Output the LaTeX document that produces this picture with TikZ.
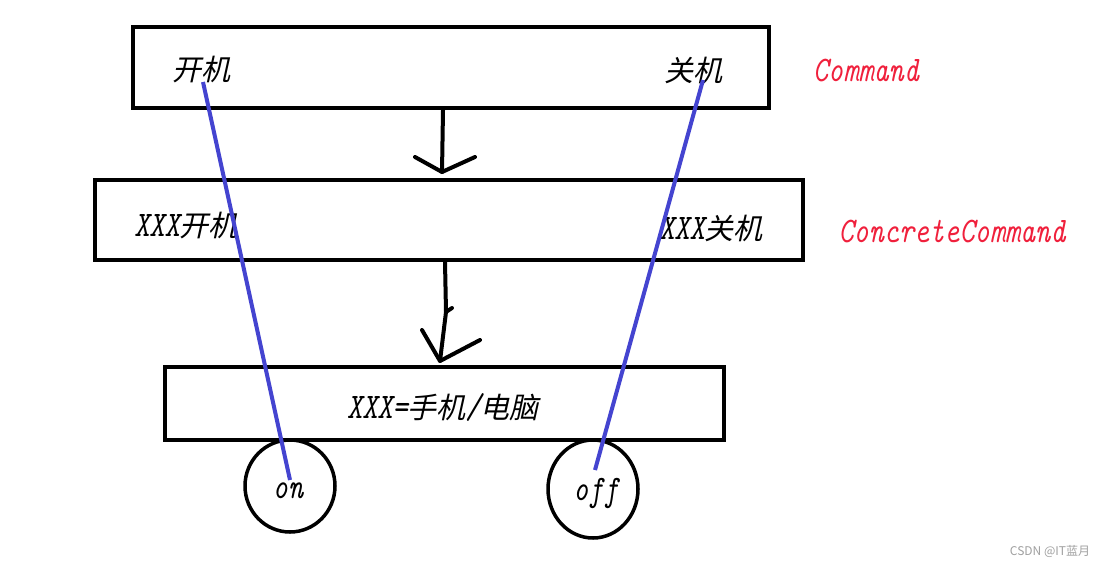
\documentclass[tikz,border=0pt]{standalone}
\usepackage{fontspec}
\usepackage{graphicx}
\newfontfamily\cjk[FakeSlant=0.22]{Noto Sans CJK SC}
\newfontfamily\wmfont{Noto Sans CJK SC}
\definecolor{cmdred}{HTML}{F0203C}
\definecolor{wireblue}{HTML}{4444D0}
\definecolor{wmgray}{HTML}{A0A0A0}
\newcommand{\lt}[1]{\scalebox{0.8}[1]{\fontsize{36}{40}\selectfont\ttfamily\itshape #1}}
\newcommand{\zh}[1]{{\cjk #1}}
\begin{document}
\begin{tikzpicture}[x=1pt,y=-1pt,
  box/.style={draw=black,line width=4pt,inner sep=0pt},
  lbl/.style={inner sep=0pt,font=\fontsize{29}{34}\selectfont},
  red lbl/.style={lbl,text=cmdred},
  wire/.style={draw=wireblue,line width=4pt},
  pen/.style={draw=black,line width=4pt,line cap=round,line join=round}]
\useasboundingbox (0,0) rectangle (1107,568);
\fill[white] (0,0) rectangle (1107,568);
% boxes
\draw[box] (133,27) rectangle (769,108);
\node[box,draw=none,minimum width=636pt,minimum height=81pt] (cmd) at (451,67.5) {};
\draw[box] (95,180) rectangle (803,260);
\node[box,draw=none,minimum width=708pt,minimum height=80pt] (conc) at (449,220) {};
\draw[box] (165,367) rectangle (724,440);
\node[box,draw=none,minimum width=559pt,minimum height=73pt] (dev) at (444.5,403.5) {};
% wheels
\draw[draw=black,line width=3.5pt] (290,486) ellipse [x radius=45,y radius=46];
\coordinate (onc) at (290,486);
\draw[draw=black,line width=3.5pt] (593,489) ellipse [x radius=45,y radius=49];
\coordinate (offc) at (593,489);
% labels
\node[lbl] (kai) at (201,70) {\zh{开机}};
\node[lbl] (guan) at (693,70) {\zh{关机}};
\node[red lbl] (lcmd) at (866,70) {\lt{Command}};
\node[lbl] (xkai) at (186,226) {\lt{XXX}\zh{开机}};
\node[lbl] (xguan) at (711,228) {\lt{XXX}\zh{关机}};
\node[red lbl] (lconc) at (952,231) {\lt{ConcreteCommand}};
\node[lbl] (xdev) at (443,407) {\lt{XXX=}\zh{手机}\lt{/}\zh{电脑}};
\node[lbl] (on) at (288,491) {\lt{on}};
\node[lbl] (off) at (596,493) {\lt{off}};
\node[inner sep=0pt,text=wmgray,font=\wmfont\fontsize{12}{14}\selectfont] (wm) at (1050,551) {CSDN @IT蓝月};
% arrows (hand drawn)
\coordinate (a1s) at (443,110);
\coordinate (a1e) at (442,172);
\coordinate (a1l) at (415,157);
\coordinate (a1r) at (475,157);
\draw[pen] (a1s) -- (a1e);
\draw[pen] (a1l) -- (a1e) -- (a1r);
\coordinate (a2s) at (445,262);
\coordinate (a2m) at (446,312);
\coordinate (a2t) at (452,308);
\coordinate (a2e) at (440,361);
\coordinate (a2l) at (422,330);
\coordinate (a2r) at (480,340);
\draw[pen] (a2s) -- (a2m) -- (a2t);
\draw[pen] (a2m) -- (a2e);
\draw[pen] (a2l) -- (a2e) -- (a2r);
% wires
\coordinate (w1s) at (203,82);
\coordinate (w1e) at (290,480);
\coordinate (w2s) at (703,80);
\coordinate (w2e) at (595,470);
\draw[wire] (w1s) -- (w1e);
\draw[wire] (w2s) -- (w2e);
\end{tikzpicture}
\end{document}
